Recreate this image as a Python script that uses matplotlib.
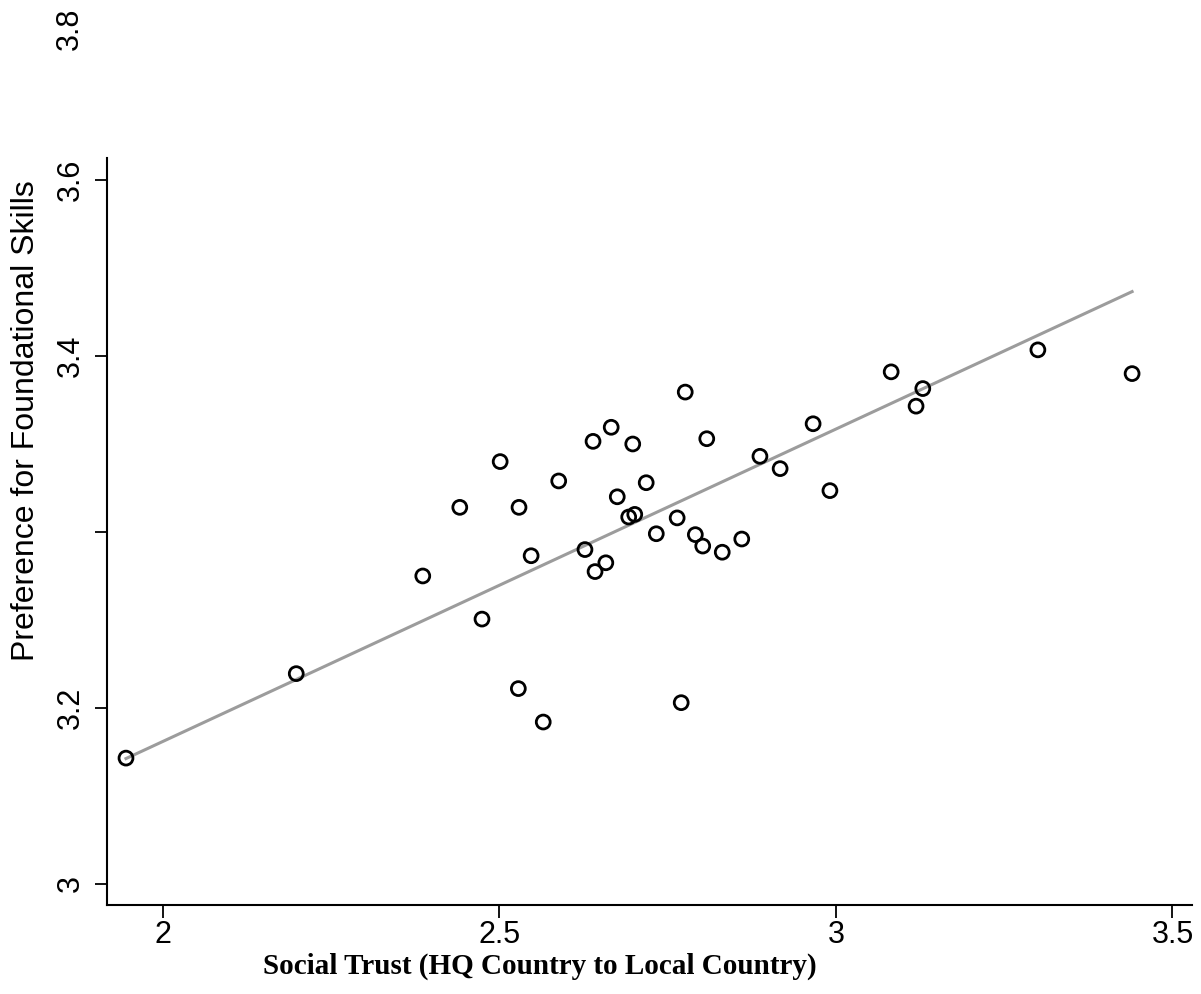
import numpy as np
import matplotlib
matplotlib.use('Agg')
import matplotlib.pyplot as plt

# Social trust (x) vs preference for foundational skills (y)
social_trust = [1.945, 2.198, 2.386, 2.441, 2.474, 2.501, 2.528, 2.529, 2.547, 2.565,
                2.588, 2.627, 2.639, 2.642, 2.658, 2.666, 2.675, 2.692, 2.698, 2.701,
                2.718, 2.733, 2.764, 2.770, 2.776, 2.791, 2.802, 2.808, 2.831, 2.860,
                2.887, 2.917, 2.966, 2.991, 3.082, 3.119, 3.129, 3.300, 3.440]
pref_found = [3.143, 3.239, 3.350, 3.428, 3.301, 3.480, 3.222, 3.428, 3.373, 3.184,
              3.458, 3.380, 3.503, 3.355, 3.365, 3.519, 3.440, 3.417, 3.500, 3.420,
              3.456, 3.398, 3.416, 3.206, 3.559, 3.397, 3.384, 3.506, 3.377, 3.392,
              3.486, 3.472, 3.523, 3.447, 3.582, 3.543, 3.563, 3.607, 3.580]

# fitted line as shown in the figure
fit_intercept = 2.452
fit_slope = 0.355

xtick_vals = [2, 2.5, 3, 3.5]
xtick_labels = ['2', '2.5', '3', '3.5']
ytick_vals = [3, 3.2, 3.4, 3.6, 3.8]
ytick_labels = ['3', '3.2', '', '3.4', '3.6']

x = np.array(social_trust)
y = np.array(pref_found)

fig = plt.figure(figsize=(12.01, 9.94), dpi=100)
ax = fig.add_axes([0.0891, 0.0895, 0.9034, 0.7515])

xs = np.array([x.min(), x.max()])
ax.plot(xs, fit_intercept + fit_slope * xs, color='#9c9c9c', lw=2.2, zorder=1)

ax.scatter(x, y, s=100, facecolors='none', edgecolors='black', linewidths=2.0, zorder=2)

ax.set_xlim(1.9168, 3.529)
ax.set_ylim(2.976, 3.825)

ax.spines['top'].set_visible(False)
ax.spines['right'].set_visible(False)
for s in ['left', 'bottom']:
    ax.spines[s].set_linewidth(1.5)

ax.set_xticks(xtick_vals)
ax.set_xticklabels(xtick_labels, fontsize=22, family='Liberation Sans')
ax.set_yticks(ytick_vals)
ax.set_yticklabels(ytick_labels, fontsize=22, family='Liberation Sans',
                   rotation=90, va='center')
ax.tick_params(length=9, width=1.3)
ax.tick_params(axis='x', pad=2)
ax.tick_params(axis='y', pad=6)

# stray top label
fig.text(70 / 1201, 1 - 29 / 994, '3.8', rotation=90, ha='center', va='center',
         fontsize=22, family='Liberation Sans')

fig.text(26 / 1201, 1 - 421 / 994, 'Preference for Foundational Skills', rotation=90,
         ha='center', va='center', fontsize=23, family='Liberation Sans')
fig.text(540 / 1201, 1 - 966 / 994, 'Social Trust (HQ Country to Local Country)',
         ha='center', va='center', fontsize=21, family='Liberation Serif', weight='bold')

fig.savefig('out.png', dpi=100)
plt.close()
